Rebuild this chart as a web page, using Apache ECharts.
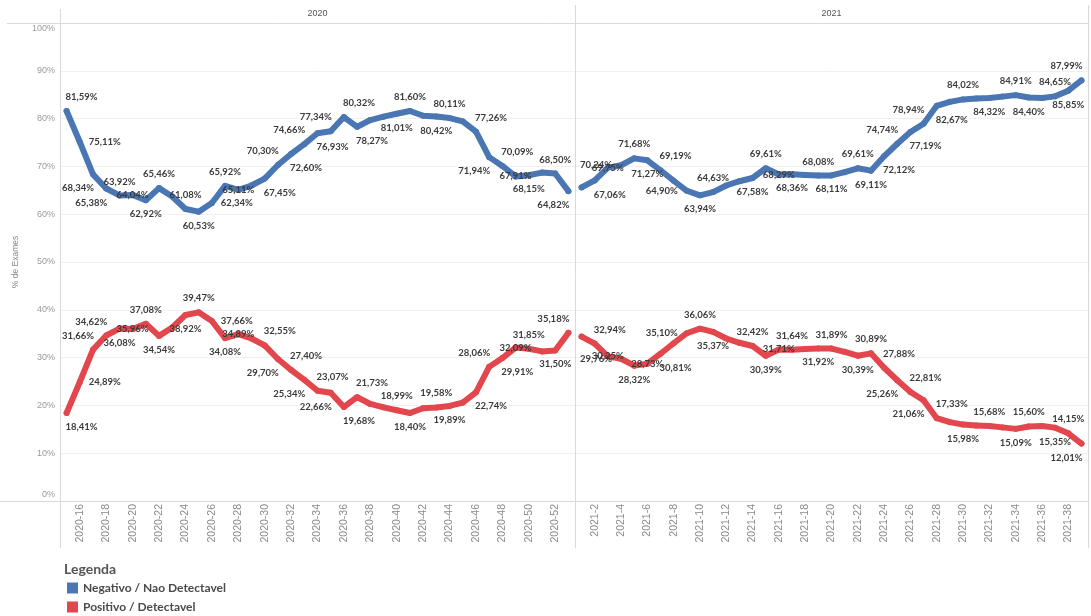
<!DOCTYPE html>
<html>
<head>
<meta charset="utf-8">
<script src="https://cdn.jsdelivr.net/npm/echarts@6/dist/echarts.min.js"></script>
<style>
  html, body { margin: 0; padding: 0; background: #ffffff; }
  #chart { width: 1091px; height: 616px; }
</style>
</head>
<body>
<div id="chart"></div>
<script>
// Weekly share of test results (% of exams), one pane per year
const years = ['2020', '2021'];

const weeks2020 = ['2020-15','2020-16','2020-17','2020-18','2020-19','2020-20','2020-21','2020-22','2020-23','2020-24',
  '2020-25','2020-26','2020-27','2020-28','2020-29','2020-30','2020-31','2020-32','2020-33','2020-34',
  '2020-35','2020-36','2020-37','2020-38','2020-39','2020-40','2020-41','2020-42','2020-43','2020-44',
  '2020-45','2020-46','2020-47','2020-48','2020-49','2020-50','2020-51','2020-52','2020-53'];

const weeks2021 = ['2021-1','2021-2','2021-3','2021-4','2021-5','2021-6','2021-7','2021-8','2021-9','2021-10',
  '2021-11','2021-12','2021-13','2021-14','2021-15','2021-16','2021-17','2021-18','2021-19','2021-20',
  '2021-21','2021-22','2021-23','2021-24','2021-25','2021-26','2021-27','2021-28','2021-29','2021-30',
  '2021-31','2021-32','2021-33','2021-34','2021-35','2021-36','2021-37','2021-38','2021-39'];

const negativo2020 = [81.59, 75.11, 68.34, 65.38, 63.92, 64.04, 62.92, 65.46, 63.70, 61.08,
  60.53, 62.34, 65.92, 65.11, 66.00, 67.45, 70.30, 72.60, 74.66, 76.93,
  77.34, 80.32, 78.27, 79.70, 80.40, 81.01, 81.60, 80.60, 80.42, 80.11,
  79.40, 77.26, 71.94, 70.09, 67.91, 68.15, 68.70, 68.50, 64.82];

const positivo2020 = [18.41, 24.89, 31.66, 34.62, 36.08, 35.96, 37.08, 34.54, 36.30, 38.92,
  39.47, 37.66, 34.08, 34.89, 34.00, 32.55, 29.70, 27.40, 25.34, 23.07,
  22.66, 19.68, 21.73, 20.30, 19.60, 18.99, 18.40, 19.40, 19.58, 19.89,
  20.60, 22.74, 28.06, 29.91, 32.09, 31.85, 31.30, 31.50, 35.18];

const negativo2021 = [65.60, 67.06, 69.75, 70.24, 71.68, 71.27, 69.19, 67.00, 64.90, 63.94,
  64.63, 66.00, 66.90, 67.58, 69.61, 68.29, 68.36, 68.20, 68.08, 68.11,
  68.80, 69.61, 69.11, 72.12, 74.74, 77.19, 78.94, 82.67, 83.50, 84.02,
  84.20, 84.32, 84.60, 84.91, 84.40, 84.30, 84.65, 85.85, 87.99];

const positivo2021 = [34.40, 32.94, 30.25, 29.76, 28.32, 28.73, 30.81, 33.00, 35.10, 36.06,
  35.37, 34.00, 33.10, 32.42, 30.39, 31.71, 31.64, 31.80, 31.92, 31.89,
  31.20, 30.39, 30.89, 27.88, 25.26, 22.81, 21.06, 17.33, 16.50, 15.98,
  15.80, 15.68, 15.40, 15.09, 15.60, 15.70, 15.35, 14.15, 12.01];

const yTicks = [0, 10, 20, 30, 40, 50, 60, 70, 80, 90, 100];

const NAME_NEG = 'Negativo / Nao Detectavel';
const NAME_POS = 'Positivo / Detectavel';
const COLOR_NEG = '#4a76b3';
const COLOR_POS = '#e3474e';

// Label placement per week ('-' = no label shown)
const placeNeg2020 = 'tr r bl bl t c b t - t b r t c - br tl br tl br tl tr br - - b t - b t - tr bl tr c b - t bl'.split(' ');
const placePos2020 = 'br r tl tl b c t b - b t r b c - tr bl tr bl tr bl br tr - - t b - t b - br tl br c t - b tl'.split(' ');
const placeNeg2021 = '- br c l t b tr - l b t - - b t c b - t b - t b br tl br tl br - t - b - t b - t b tl'.split(' ');
const placePos2021 = '- tr c l b c br - l t b - - t b c t - b t - b t tr bl tr bl tr - b - t - b t - b t bl'.split(' ');

const PLACE = {
  t:  { position: 'top',    offset: [0, 0] },
  b:  { position: 'bottom', offset: [0, 0] },
  tl: { position: 'top',    offset: [-15, 0] },
  tr: { position: 'top',    offset: [15, 0] },
  bl: { position: 'bottom', offset: [-15, 0] },
  br: { position: 'bottom', offset: [15, 0] },
  l:  { position: 'left',   offset: [0, 0] },
  r:  { position: 'right',  offset: [0, 0] },
  c:  { position: 'inside', offset: [0, 0] }
};

function withLabels(values, places) {
  return values.map((v, i) => {
    const p = PLACE[places[i]];
    if (!p) return { value: v, label: { show: false } };
    return { value: v, label: { show: true, position: p.position, offset: p.offset } };
  });
}

const fmtPct = v => v.toFixed(2).replace('.', ',') + '%';

// pane geometry
const PANE_L = 60, PANE_MID = 575, PANE_R = 1088;
const PLOT_T = 23, PLOT_B = 501;
const FRAME = '#dadada';

function lineSeries(name, color, values, places, idx) {
  return {
    name: name,
    type: 'line',
    xAxisIndex: idx,
    yAxisIndex: idx,
    data: withLabels(values, places),
    symbol: 'circle',
    symbolSize: 6,
    showSymbol: true,
    showAllSymbol: true,
    itemStyle: { color: color },
    lineStyle: { color: color, width: 6, cap: 'round', join: 'round' },
    label: {
      show: false,
      formatter: p => fmtPct(p.value),
      fontFamily: 'Lato',
      fontWeight: 'bold',
      fontSize: 9.5,
      color: '#3a3a3a',
      distance: 6
    },
    emphasis: { disabled: true },
    z: 3
  };
}

const evenWeek = (index, value) => Number(String(value).split('-')[1]) % 2 === 0;

function xAxisFor(idx, cats) {
  return {
    gridIndex: idx,
    type: 'category',
    data: cats,
    boundaryGap: true,
    axisLine: { show: false },
    axisTick: { show: false },
    splitLine: { show: false },
    axisLabel: {
      interval: evenWeek,
      rotate: 90,
      margin: 3,
      fontFamily: 'Liberation Sans',
      fontSize: 10.5,
      color: '#8a8a8a'
    }
  };
}

function yAxisFor(idx, showLabels) {
  return {
    gridIndex: idx,
    type: 'value',
    min: yTicks[0],
    max: yTicks[yTicks.length - 1],
    interval: 10,
    axisLine: { show: false },
    axisTick: { show: false },
    splitLine: { show: true, lineStyle: { color: '#f0f0f0', width: 1 } },
    axisLabel: {
      show: showLabels,
      margin: 5,
      color: '#9a9a9a',
      fontFamily: 'Liberation Sans',
      fontSize: 9,
      formatter: v => v === 100 ? '{hi|100%}' : (v === 0 ? '{lo|0%}' : v + '%'),
      rich: {
        hi: { padding: [12, 0, 0, 0], color: '#9a9a9a', fontSize: 9, fontFamily: 'Liberation Sans' },
        lo: { padding: [0, 0, 12, 0], color: '#9a9a9a', fontSize: 9, fontFamily: 'Liberation Sans' }
      }
    },
    name: showLabels ? '% de Exames' : '',
    nameLocation: 'middle',
    nameGap: 40,
    nameTextStyle: { color: '#8a8a8a', fontSize: 8.5, fontFamily: 'Liberation Sans' }
  };
}

function frameLine(x1, y1, x2, y2) {
  return {
    type: 'line',
    silent: true,
    z: 10,
    shape: { x1: x1, y1: y1, x2: x2, y2: y2 },
    style: { stroke: FRAME, lineWidth: 1 }
  };
}

const chart = echarts.init(document.getElementById('chart'), null, { renderer: 'canvas' });

chart.setOption({
  animation: false,
  backgroundColor: '#ffffff',
  title: {
    text: 'Legenda',
    left: 64,
    top: 562,
    padding: 0,
    textStyle: { fontFamily: 'Lato', fontWeight: 'bold', fontSize: 14, color: '#555555' }
  },
  legend: {
    orient: 'vertical',
    left: 67,
    top: 582,
    height: 40,
    padding: 0,
    icon: 'rect',
    itemWidth: 11,
    itemHeight: 11,
    itemGap: 7,
    selectedMode: false,
    data: [
      { name: NAME_NEG, itemStyle: { color: COLOR_NEG } },
      { name: NAME_POS, itemStyle: { color: COLOR_POS } }
    ],
    textStyle: { fontFamily: 'Lato', fontWeight: 'bold', fontSize: 12, color: '#4a4a4a' }
  },
  grid: [
    { left: PANE_L, top: PLOT_T, width: PANE_MID - PANE_L, height: PLOT_B - PLOT_T },
    { left: PANE_MID, top: PLOT_T, width: PANE_R - PANE_MID, height: PLOT_B - PLOT_T }
  ],
  xAxis: [xAxisFor(0, weeks2020), xAxisFor(1, weeks2021)],
  yAxis: [yAxisFor(0, true), yAxisFor(1, false)],
  series: [
    lineSeries(NAME_NEG, COLOR_NEG, negativo2020, placeNeg2020, 0),
    lineSeries(NAME_POS, COLOR_POS, positivo2020, placePos2020, 0),
    lineSeries(NAME_NEG, COLOR_NEG, negativo2021, placeNeg2021, 1),
    lineSeries(NAME_POS, COLOR_POS, positivo2021, placePos2021, 1)
  ],
  graphic: [
    frameLine(7, PLOT_T + 0.5, PANE_R, PLOT_T + 0.5),
    frameLine(0, PLOT_B + 0.5, PANE_R, PLOT_B + 0.5),
    frameLine(PANE_L + 0.5, 9, PANE_L + 0.5, 548),
    frameLine(PANE_MID + 0.5, 5, PANE_MID + 0.5, 548),
    frameLine(PANE_R + 0.5, 5, PANE_R + 0.5, 548),
    {
      type: 'text', silent: true,
      x: (PANE_L + PANE_MID) / 2, y: 14,
      style: { text: years[0], align: 'center', verticalAlign: 'middle',
               fill: '#555555', font: '9px "Liberation Sans"' }
    },
    {
      type: 'text', silent: true,
      x: (PANE_MID + PANE_R) / 2, y: 14,
      style: { text: years[1], align: 'center', verticalAlign: 'middle',
               fill: '#555555', font: '9px "Liberation Sans"' }
    }
  ]
});
</script>
</body>
</html>
